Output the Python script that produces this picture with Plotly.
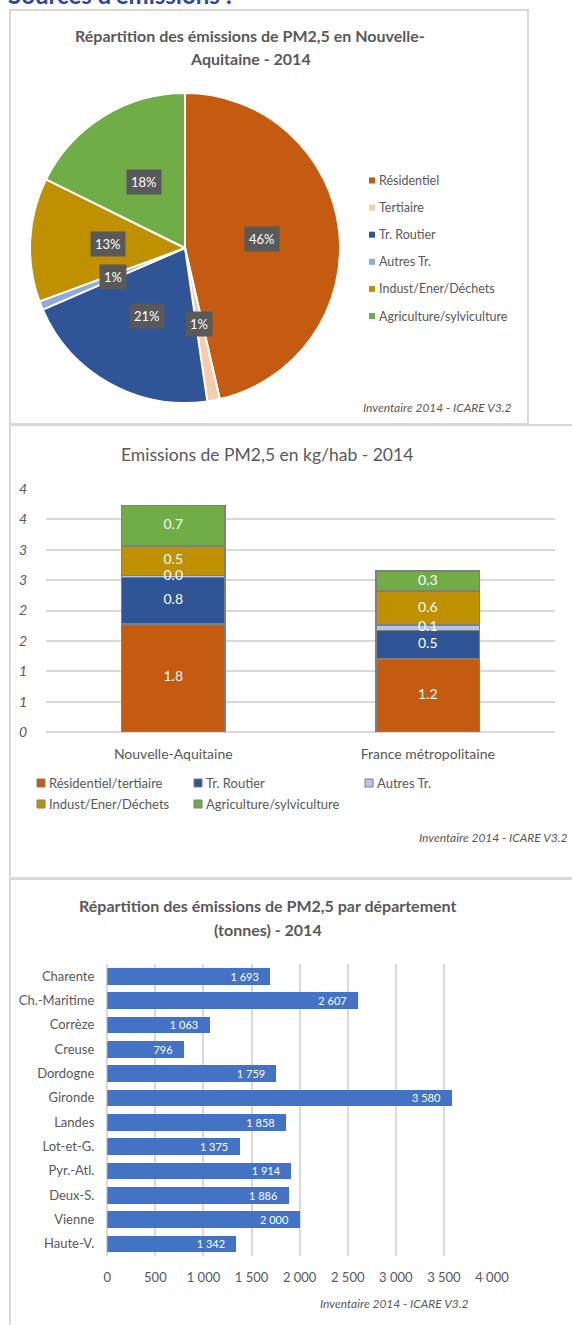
import math
import plotly.graph_objects as go

W, H = 572, 1325
FONT = "Lato"
GREY_TXT = "#595959"
GRID = "#D9D9D9"

# ---- Pie: share of PM2,5 emissions by sector (%) ----
pie_labels = ["Résidentiel", "Tertiaire", "Tr. Routier", "Autres Tr.",
              "Indust/Ener/Déchets", "Agriculture/sylviculture"]
pie_shares = [46.4, 1.3, 20.8, 0.9, 12.9, 17.7]
pie_colors = ["#C55A11", "#F8CBAD", "#2F5597", "#8FAADC", "#BF9000", "#70AD47"]

# ---- Stacked bars: kg per inhabitant ----
regions = ["Nouvelle-Aquitaine", "France métropolitaine"]
bar_sectors = ["Résidentiel/tertiaire", "Tr. Routier", "Autres Tr.",
               "Indust/Ener/Déchets", "Agriculture/sylviculture"]
res_tertiaire = [1.78, 1.20]
tr_routier = [0.76, 0.47]
autres_tr = [0.04, 0.09]
indust = [0.48, 0.56]
agriculture = [0.67, 0.33]
bar_colors = ["#C55A11", "#2F5597", "#B4C7E7", "#BF9000", "#70AD47"]
kg_tick_vals = [0, 0.5, 1, 1.5, 2, 2.5, 3, 3.5, 4]
kg_tick_text = ["0", "1", "1", "2", "2", "3", "3", "4", "4"]

# ---- Horizontal bars: tonnes per département ----
departements = ["Charente", "Ch.-Maritime", "Corrèze", "Creuse", "Dordogne",
                "Gironde", "Landes", "Lot-et-G.", "Pyr.-Atl.", "Deux-S.",
                "Vienne", "Haute-V."]
tonnes = [1693, 2607, 1063, 796, 1759, 3580, 1858, 1375, 1914, 1886, 2000, 1342]
tonne_ticks = [0, 500, 1000, 1500, 2000, 2500, 3000, 3500, 4000]


def fx(px):
    return px / W


def fy(py):
    return 1 - py / H


def note(text, x, y, size, color=GREY_TXT, xanchor="center", yanchor="middle", **font_extra):
    return dict(text=text, xref="paper", yref="paper", x=fx(x), y=fy(y),
                xanchor=xanchor, yanchor=yanchor, showarrow=False,
                font=dict(family=FONT, size=size, color=color, **font_extra))


fig = go.Figure()
annotations = []
shapes = []

# panel frames
for x0, y0, x1, y1 in [(10, 10, 528, 424), (10, 425, 600, 878), (10, 879, 600, 1400)]:
    shapes.append(dict(type="rect", xref="paper", yref="paper",
                       x0=fx(x0), x1=fx(x1), y0=fy(y1), y1=fy(y0),
                       line=dict(color=GRID, width=2), fillcolor="rgba(0,0,0,0)",
                       layer="below"))

# page heading, partly cut by the top edge
annotations.append(note("<b>Sources d'émissions :</b>", 6, 11, 24, color="#2E45A8",
                        xanchor="left", yanchor="bottom"))

# ---------------- Panel 1: pie ----------------
cx, cy, R = 185, 248, 155
fig.add_trace(go.Pie(
    labels=pie_labels, values=pie_shares, sort=False, direction="clockwise",
    rotation=0, marker=dict(colors=pie_colors, line=dict(color="white", width=2)),
    textinfo="none", hoverinfo="label+percent", showlegend=False,
    domain=dict(x=[fx(cx - R), fx(cx + R)], y=[fy(cy + R), fy(cy - R)]),
))

total = sum(pie_shares)
cum = 0.0
for v in pie_shares:
    mid = (cum + v / 2) / total * 2 * math.pi
    cum += v
    lx = cx + 0.5 * R * math.sin(mid)
    ly = cy - 0.5 * R * math.cos(mid)
    a = note(f"{round(100 * v / total)}%", lx, ly, 13, color="white")
    a.update(bgcolor="#595959", borderpad=4)
    annotations.append(a)

annotations.append(note("<b>Répartition des émissions de PM2,5 en Nouvelle-</b>", 250, 36, 16))
annotations.append(note("<b>Aquitaine - 2014</b>", 250, 58, 16))

# pie legend
for i, (lab, col) in enumerate(zip(pie_labels, pie_colors)):
    yy = 180.5 + i * 27.1
    shapes.append(dict(type="rect", xref="paper", yref="paper",
                       x0=fx(369), x1=fx(375), y0=fy(yy + 3), y1=fy(yy - 3),
                       line=dict(width=0), fillcolor=col))
    annotations.append(note(lab, 377, yy, 12.5, xanchor="left"))

annotations.append(note("Inventaire 2014 - ICARE V3.2", 514, 407, 12,
                        xanchor="right", style="italic"))

# ---------------- Panel 2: stacked bars ----------------
stack = [res_tertiaire, tr_routier, autres_tr, indust, agriculture]
for name, vals, col in zip(bar_sectors, stack, bar_colors):
    fig.add_trace(go.Bar(
        x=regions, y=vals, name=name, width=0.405,
        marker=dict(color=col, line=dict(color="#7F7F7F", width=1.5)),
        textposition="none", showlegend=False, xaxis="x", yaxis="y",
    ))

# value labels sit above every segment, at the middle of each one
lab_x, lab_y, lab_t = [], [], []
for j, reg in enumerate(regions):
    base = 0.0
    for vals in stack:
        lab_x.append(reg)
        lab_y.append(base + vals[j] / 2)
        lab_t.append(f"{vals[j]:.1f}")
        base += vals[j]
fig.add_trace(go.Scatter(
    x=lab_x, y=lab_y, text=lab_t, mode="text", textposition="middle center",
    textfont=dict(family=FONT, size=14, color="white"),
    hoverinfo="skip", showlegend=False, xaxis="x", yaxis="y", cliponaxis=False,
))

annotations.append(note("Emissions de PM2,5 en kg/hab - 2014", 267, 455, 17.5))

legend_pos = [(41, 783), (198, 783), (369, 783), (41, 804), (198, 804)]
for (px, py), lab, col in zip(legend_pos, bar_sectors, bar_colors):
    shapes.append(dict(type="rect", xref="paper", yref="paper",
                       x0=fx(px - 4), x1=fx(px + 4), y0=fy(py + 4), y1=fy(py - 4),
                       line=dict(color="#7F7F7F", width=1), fillcolor=col))
    annotations.append(note(lab, px + 6, py, 13, xanchor="left"))

annotations.append(note("Inventaire 2014 - ICARE V3.2", 570, 837, 12,
                        xanchor="right", style="italic"))

# ---------------- Panel 3: horizontal bars ----------------
fig.add_trace(go.Bar(
    y=departements, x=tonnes, orientation="h", width=0.685,
    marker=dict(color="#4472C4", line=dict(width=0)),
    text=[f"{v:,}".replace(",", " ") + "\u2002\u00a0" for v in tonnes],
    textposition="inside", insidetextanchor="end", constraintext="none",
    textfont=dict(family=FONT, size=11, color="white"),
    showlegend=False, xaxis="x2", yaxis="y2",
))

annotations.append(note("<b>Répartition des émissions de PM2,5 par département</b>", 268, 905, 16))
annotations.append(note("<b>(tonnes) - 2014</b>", 268, 930, 16))
annotations.append(note("Inventaire 2014 - ICARE V3.2", 471, 1303, 12,
                        xanchor="right", style="italic"))

fig.update_layout(
    width=W, height=H, margin=dict(l=0, r=0, t=0, b=0, autoexpand=False),
    paper_bgcolor="white", plot_bgcolor="white", showlegend=False,
    barmode="stack", separators=". ",
    font=dict(family=FONT, color=GREY_TXT),
    xaxis=dict(domain=[fx(46), fx(555)], anchor="y", showgrid=False, showline=False,
               tickfont=dict(family=FONT, size=14, color=GREY_TXT),
               ticks="", ticklabelstandoff=12, fixedrange=True, automargin=False),
    yaxis=dict(domain=[fy(732), fy(489)], anchor="x", range=[0, 4],
               tickvals=kg_tick_vals, ticktext=kg_tick_text,
               showgrid=True, gridcolor=GRID, gridwidth=1.5,
               zeroline=True, zerolinecolor=GRID, zerolinewidth=1.5,
               tickfont=dict(family=FONT, size=14, color=GREY_TXT, style="italic"),
               ticks="", ticklabelstandoff=18, fixedrange=True, automargin=False),
    xaxis2=dict(domain=[fx(107.3), fx(492)], anchor="y2", range=[0, 4000],
                tickvals=tonne_ticks, tickformat=",d",
                showgrid=True, gridcolor=GRID, gridwidth=1.5,
                zeroline=True, zerolinecolor=GRID, zerolinewidth=1.5,
                tickfont=dict(family=FONT, size=13, color=GREY_TXT),
                ticks="", ticklabelstandoff=12, fixedrange=True, automargin=False),
    yaxis2=dict(domain=[fy(1256), fy(964)], anchor="x2", autorange="reversed",
                showgrid=False, tickfont=dict(family=FONT, size=13, color=GREY_TXT),
                ticks="", ticklabelstandoff=12, fixedrange=True, automargin=False),
    annotations=annotations, shapes=shapes,
)

fig.write_html("out.html")
